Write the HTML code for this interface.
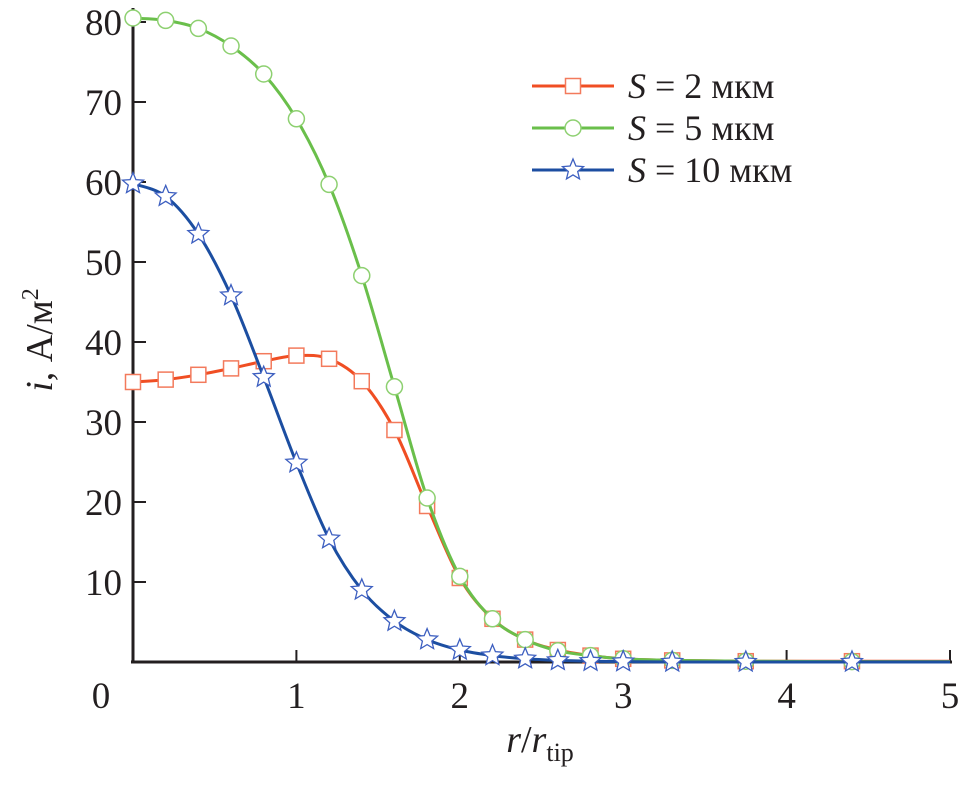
<!DOCTYPE html>
<html><head><meta charset="utf-8"><style>
body{margin:0;background:#fff;}
svg text{font-family:"Liberation Serif",serif;fill:#231f20;}
</style></head><body>
<svg id="chart" width="963" height="782" viewBox="0 0 963 782" xmlns="http://www.w3.org/2000/svg">
<g id="axes"></g>
<g id="series"></g>
<g id="legend"></g>
<text transform="translate(52,340) rotate(-90)" text-anchor="middle" font-size="38"><tspan font-style="italic">i</tspan>, А/м<tspan font-size="24" dy="-14">2</tspan></text>
<text x="540" y="752" text-anchor="middle" font-size="38"><tspan font-style="italic">r</tspan>/<tspan font-style="italic">r</tspan><tspan font-size="26" dy="9">tip</tspan></text>
</svg>
<script>
const xVals=[0,0.2,0.4,0.6,0.8,1.0,1.2,1.4,1.6,1.8,2.0,2.2,2.4,2.6,2.8,3.0,3.3,3.75,4.4];
const s2=[35.0,35.3,35.9,36.7,37.6,38.3,37.9,35.1,29.0,19.5,10.5,5.4,2.8,1.5,0.8,0.4,0.2,0.1,0.1];
const s5=[80.5,80.2,79.2,77.0,73.5,67.9,59.7,48.3,34.4,20.5,10.7,5.4,2.8,1.4,0.8,0.4,0.2,0.1,0.05];
const s10=[59.8,58.2,53.5,45.8,35.6,24.9,15.4,9.0,5.1,2.8,1.5,0.8,0.4,0.2,0.1,0.05,0,0,0];
const xTicks=[0,1,2,3,4,5];
const yTicks=[10,20,30,40,50,60,70,80];
const legendLabels=["2 мкм","5 мкм","10 мкм"];
const NS="http://www.w3.org/2000/svg";
const X=v=>133+v*163.4, Y=v=>662-v*8;
function mk(t,a,p){const e=document.createElementNS(NS,t);for(const k in a)e.setAttribute(k,a[k]);p.appendChild(e);return e;}
const ax=document.getElementById('axes');
const yl=mk('line',{x1:133,y1:8,x2:133,y2:663,stroke:'#231f20','stroke-width':3},ax);


const xl=mk('line',{x1:131,y1:662,x2:952,y2:662,stroke:'#231f20','stroke-width':3},ax);


xTicks.forEach(t=>{
 const l=mk('line',{x1:X(t),y1:662,x2:X(t),y2:650,stroke:'#231f20','stroke-width':2},ax);
 
 
 const tx=mk('text',{x:X(t)+(t===0?-32:0),y:708,'text-anchor':'middle','font-size':37},ax);tx.textContent=t;
 
 
});
yTicks.forEach(t=>{
 const l=mk('line',{x1:133,y1:Y(t),x2:146,y2:Y(t),stroke:'#231f20','stroke-width':2},ax);
 
 
 const tx=mk('text',{x:122,y:Y(t)+13,'text-anchor':'end','font-size':37},ax);tx.textContent=t;
 
 
});
function smooth(pts){let d=`M${pts[0][0]},${pts[0][1]}`;for(let i=0;i<pts.length-1;i++){const p0=pts[Math.max(0,i-1)],p1=pts[i],p2=pts[i+1],p3=pts[Math.min(pts.length-1,i+2)];
 d+=` C${p1[0]+(p2[0]-p0[0])/6},${p1[1]+(p2[1]-p0[1])/6} ${p2[0]-(p3[0]-p1[0])/6},${p2[1]-(p3[1]-p1[1])/6} ${p2[0]},${p2[1]}`;}return d;}
function starPts(cx,cy,R){let s=[];for(let i=0;i<10;i++){const r=i%2?R*0.45:R,a=-Math.PI/2+i*Math.PI/5;s.push((cx+r*Math.cos(a)).toFixed(1)+','+(cy+r*Math.sin(a)).toFixed(1));}return s.join(' ');}
function marker(type,x,y,col,g){
 let m;
 if(type==='sq')m=mk('rect',{x:x-7.5,y:y-7.5,width:15,height:15,fill:'#fff',stroke:col,'stroke-width':1.5},g);
 else if(type==='ci')m=mk('circle',{cx:x,cy:y,r:8,fill:'#fff',stroke:col,'stroke-width':1.5},g);
 else m=mk('polygon',{points:starPts(x,y,11),fill:'#fff',stroke:col,'stroke-width':1.3},g);
 return m;
}
const sg=document.getElementById('series');
const defs=[[s2,'#f04e23','#f37a5c','sq','series-s2'],[s5,'#6abf4b','#8dd070','ci','series-s5'],[s10,'#1c4ea1','#3d5fc0','st','series-s10']];
defs.forEach(([vals,col,mcol,type,name])=>{
 const g=mk('g',{},sg);
 
 
 const pts=xVals.map((x,i)=>[X(x),Y(vals[i])]);
 pts.push([X(5),Y(vals[vals.length-1])]);
 const p=mk('path',{d:smooth(pts),fill:'none',stroke:col,'stroke-width':3},g);
 
 
 xVals.forEach((x,i)=>{const m=marker(type,X(x),Y(vals[i]),mcol,g);
  
  });
});
const lg=document.getElementById('legend');
defs.forEach(([v,col,mcol,type,name],i)=>{
 const y=86+i*42;
 const g=mk('g',{},lg);
 
 
 mk('line',{x1:532,y1:y,x2:614,y2:y,stroke:col,'stroke-width':3},g);
 marker(type,573,y,mcol,g);
 const t=mk('text',{x:628,y:y+12,'font-size':36},g);
 t.innerHTML='<tspan font-style="italic">S</tspan> = '+legendLabels[i];
});
</script>
</body></html>
